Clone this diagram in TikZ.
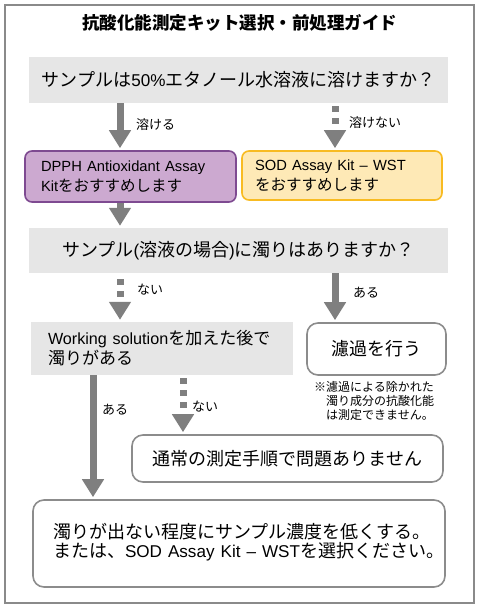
\documentclass[tikz,border=0pt]{standalone}
\usepackage{fontspec}
\setmainfont{Noto Sans CJK JP}
\newfontfamily\lat[Scale=0.95]{Liberation Sans}
\usetikzlibrary{arrows.meta}

\definecolor{framegray}{HTML}{8A8A8A}
\definecolor{qgray}{HTML}{E6E6E6}
\definecolor{arrowgray}{HTML}{7F7F7F}
\definecolor{dpphfill}{HTML}{CCA9D0}
\definecolor{dpphline}{HTML}{7E4A91}
\definecolor{sodfill}{HTML}{FEE9B6}
\definecolor{sodline}{HTML}{F8BB22}
\definecolor{boxline}{HTML}{8C8C8C}

\tikzset{
  qbox/.style={fill=qgray, inner sep=0pt, font=\fontsize{18}{21}\selectfont},
  kitbox/.style={rounded corners=7pt, line width=1.6pt, inner sep=0pt, align=left,
    font=\fontsize{15.5}{20}\selectfont},
  endbox/.style={draw=boxline, line width=1.6pt, rounded corners=11pt, inner sep=0pt,
    font=\fontsize{18}{19.5}\selectfont},
  lbl/.style={anchor=west, inner sep=0pt, font=\fontsize{13}{15}\selectfont},
  flowarrow/.style={draw=arrowgray, line width=7pt, -{Triangle[width=21pt,length=18pt]},
    shorten >=2pt},
  dotarrow/.style={flowarrow, dash pattern=on 6pt off 6pt, shorten <=3pt}
}

\begin{document}
\begin{tikzpicture}[x=1pt, y=-1pt]
    \useasboundingbox (0,0) rectangle (477,609);
    % Frame and title
    \draw[framegray, line width=2pt] (5,5) rectangle (474,603);
    \node[font=\fontsize{17.5}{20}\selectfont\bfseries] (title) at (239.5,23) {抗酸化能測定キット選択・前処理ガイド};

    % Questions and results
    \node[qbox, minimum width=419pt, minimum height=46pt] (q1) at (238.5,80)
        {サンプルは{\lat 50\%}エタノール水溶液に溶けますか？};
    \node[kitbox, fill=dpphfill, draw=dpphline, minimum width=211pt, minimum height=51pt,
        text width=179pt] (dpph) at (130.5,176.5)
        {{\lat DPPH Antioxidant Assay}\\{\lat Kit}をおすすめします};
    \node[kitbox, fill=sodfill, draw=sodline, minimum width=200pt, minimum height=49pt,
        text width=174pt] (sod) at (342,175.5)
        {{\lat SOD Assay Kit – WST}\\をおすすめします};
    \node[qbox, align=left, minimum width=262pt, minimum height=53pt, text width=228pt,
        font=\fontsize{17}{20}\selectfont] (q3) at (162,348.5)
        {\mbox{{\lat Working solution}を加えた後で}\\濁りがある};
    \node[qbox, minimum width=419pt, minimum height=45pt] (q2) at (238.5,250.5)
        {サンプル{\lat (}溶液の場合{\lat )}に濁りはありますか？};
    \node[endbox, minimum width=139pt, minimum height=52pt] (filter) at (376.5,349) {濾過を行う};
    \node[anchor=north west, inner sep=0pt, align=left, font=\fontsize{12}{14}\selectfont] (note)
        at (314,381) {※濾過による除かれた\\\hphantom{※}濁り成分の抗酸化能\\\hphantom{※}は測定できません。};
    \node[endbox, minimum width=311pt, minimum height=47pt] (normal) at (287.5,458.5)
        {通常の測定手順で問題ありません};
    \node[endbox, align=left, minimum width=412pt, minimum height=87pt, text width=372pt,
        text depth=26pt] (bottom) at (239,543.5)
        {\mbox{濁りが出ない程度にサンプル濃度を低くする。}\\
         \mbox{または、{\lat SOD Assay Kit – WST}を選択ください。}};

    % Arrow columns
    \coordinate (colA) at (120,0);
    \coordinate (colB) at (335,0);
    \coordinate (colC) at (93,0);
    \coordinate (colD) at (183,0);

    % Arrows
    \draw[flowarrow] (q1.south -| colA) -- (dpph.north -| colA);
    \draw[dotarrow] (q1.south -| colB) -- (sod.north -| colB);
    \draw[flowarrow] (dpph.south -| colA) -- (q2.north -| colA);
    \draw[dotarrow, shorten <=6pt] (q2.south -| colA) -- (q3.north -| colA);
    \draw[flowarrow] (q2.south -| colB) -- (filter.north -| colB);
    \draw[flowarrow] (q3.south -| colC) -- (bottom.north -| colC);
    \draw[dotarrow] (q3.south -| colD) -- (normal.north -| colD);

    % Arrow labels
    \node[lbl] (l1) at (136,125) {溶ける};
    \node[lbl] (l2) at (349,123) {溶けない};
    \node[lbl] (l3) at (137,290) {ない};
    \node[lbl] (l4) at (353,293) {ある};
    \node[lbl] (l5) at (102,410) {ある};
    \node[lbl] (l6) at (192,407) {ない};
\end{tikzpicture}
\end{document}
